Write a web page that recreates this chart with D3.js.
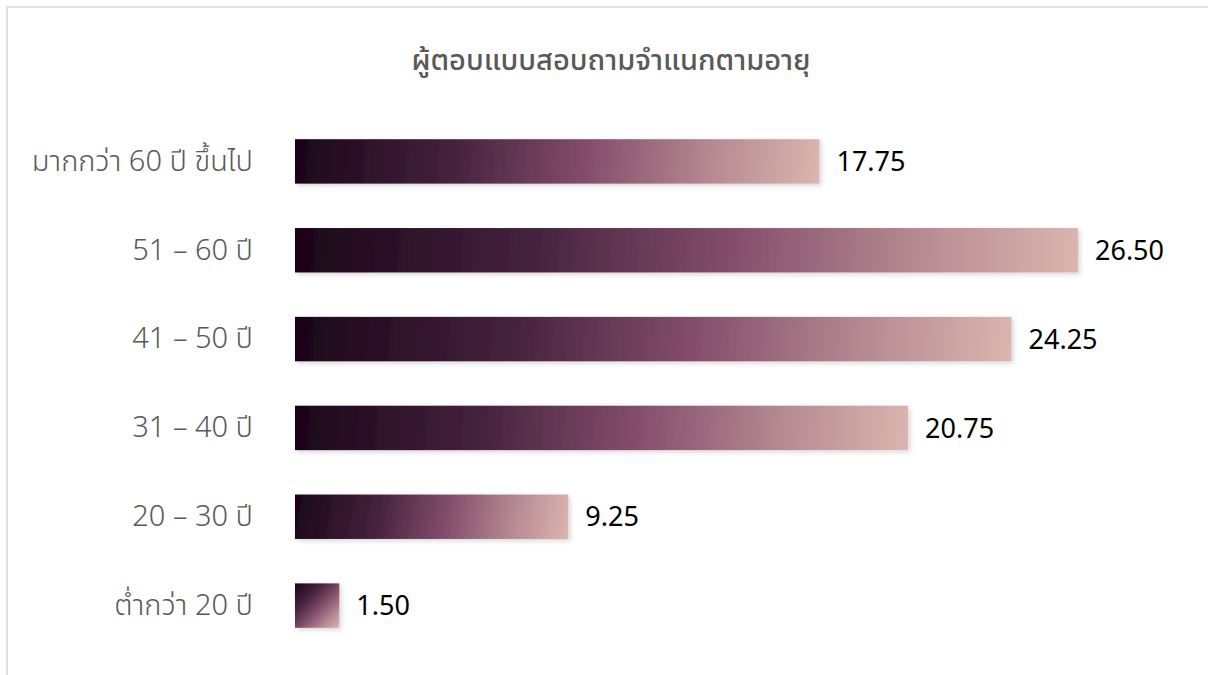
<!DOCTYPE html>
<html>
<head>
<meta charset="utf-8">
<script src="https://cdn.jsdelivr.net/npm/d3@7"></script>
<style>
  html, body { margin: 0; padding: 0; background: #fff; }
  svg { display: block; }
</style>
</head>
<body>
<svg id="chart" width="1208" height="675"></svg>
<script>
// Respondents by age group (percent)
const categories = ["มากกว่า 60 ปี ขึ้นไป", "51 – 60 ปี", "41 – 50 ปี", "31 – 40 ปี", "20 – 30 ปี", "ต่ำกว่า 20 ปี"];
const values = [17.75, 26.50, 24.25, 20.75, 9.25, 1.50];
const valueLabels = ["17.75", "26.50", "24.25", "20.75", "9.25", "1.50"];
const title = "ผู้ตอบแบบสอบถามจำแนกตามอายุ";

const W = 1208, H = 675;
const svg = d3.select("#chart");
const fontFamily = "'Noto Sans Thai', 'Noto Sans', 'Open Sans', sans-serif";
const stops = [[0, "#1a0418"], [0.3, "#44223d"], [0.55, "#824c6a"], [0.8, "#b78b93"], [1, "#dbb5af"]];

const defs = svg.append("defs");

const shadow = defs.append("filter").attr("id", "shadow")
  .attr("x", "-20%").attr("y", "-40%").attr("width", "140%").attr("height", "180%");
shadow.append("feDropShadow")
  .attr("dx", 2).attr("dy", 2).attr("stdDeviation", 2.5)
  .attr("flood-color", "#000").attr("flood-opacity", 0.16);

// chart frame
svg.append("rect")
  .attr("x", 7).attr("y", 7).attr("width", W + 20).attr("height", H + 20)
  .attr("fill", "none").attr("stroke", "#d9d9d9").attr("stroke-width", 1.5);

svg.append("text")
  .attr("x", 611).attr("y", 70)
  .attr("text-anchor", "middle")
  .attr("font-family", fontFamily)
  .attr("font-size", 29)
  .attr("font-weight", 500)
  .attr("fill", "#595959")
  .text(title);

const x0 = 295;
const x = d3.scaleLinear().domain([0, 26.5]).range([x0, 1078]);
const y = d3.scaleBand().domain(categories).range([117, 650]).paddingInner(0.5).paddingOuter(0.25);

const yAxis = d3.axisLeft(y).tickSize(0).tickPadding(0);
const gy = svg.append("g").attr("transform", `translate(${253},0)`).call(yAxis);
gy.select(".domain").remove();
gy.selectAll("text")
  .attr("font-family", fontFamily)
  .attr("font-size", 29)
  .attr("font-weight", 300)
  .attr("fill", "#595959");

// one corner-to-corner gradient per bar, so long bars shade left-to-right
// while short bars shade diagonally
values.forEach((d, i) => {
  const top = y(categories[i]);
  const g = defs.append("linearGradient")
    .attr("id", `barGrad${i}`)
    .attr("gradientUnits", "userSpaceOnUse")
    .attr("x1", x0).attr("y1", top)
    .attr("x2", x(d)).attr("y2", top + y.bandwidth());
  stops.forEach(([o, c]) => g.append("stop").attr("offset", o).attr("stop-color", c));
});

svg.append("g").selectAll("rect")
  .data(values)
  .join("rect")
  .attr("x", x0)
  .attr("y", (d, i) => y(categories[i]))
  .attr("width", d => x(d) - x0)
  .attr("height", y.bandwidth())
  .attr("fill", (d, i) => `url(#barGrad${i})`)
  .attr("filter", "url(#shadow)");

svg.append("g").selectAll("text")
  .data(values)
  .join("text")
  .attr("x", d => x(d) + 17)
  .attr("y", (d, i) => y(categories[i]) + y.bandwidth() / 2)
  .attr("dy", "0.36em")
  .attr("font-family", fontFamily)
  .attr("font-size", 27)
  .attr("fill", "#000")
  .text((d, i) => valueLabels[i]);
</script>
</body>
</html>
